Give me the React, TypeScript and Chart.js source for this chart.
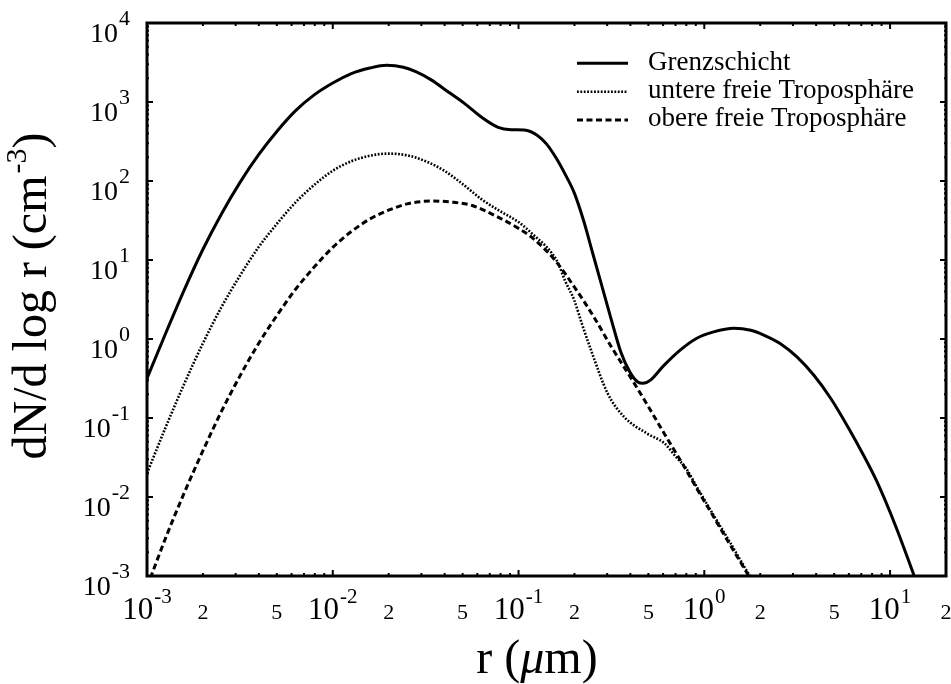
import React, { useEffect, useRef } from 'react';
import { Chart, registerables } from 'chart.js';

Chart.register(...registerables);

// ---------- data ----------
const rGrenz = [0.001, 0.001259, 0.001585, 0.001995, 0.002512, 0.003162, 0.003981, 0.005012, 0.00631, 0.007943, 0.01, 0.01259, 0.01585, 0.0195, 0.02399, 0.02818, 0.03388, 0.04169, 0.05129, 0.0631, 0.07762, 0.0912, 0.1072, 0.1259, 0.1413, 0.1585, 0.1778, 0.1995, 0.2239, 0.2512, 0.2818, 0.3162, 0.3548, 0.3981, 0.4365, 0.4677, 0.5129, 0.6026, 0.7413, 0.912, 1.122, 1.445, 1.778, 2.089, 2.57, 3.162, 3.89, 4.786, 5.888, 7.079, 8.511, 10.72, 13.49, 15.85];
const nGrenz = [0.3162, 1.175, 4.169, 13.49, 38.02, 95.5, 213.8, 426.6, 776.2, 1230, 1738, 2291, 2692, 2917, 2754, 2399, 1905, 1349, 955, 645.7, 478.6, 446.7, 441.6, 380.2, 295.1, 199.5, 123, 70.8, 31.6, 12.0, 4.57, 1.738, 0.692, 0.38, 0.288, 0.275, 0.302, 0.457, 0.724, 1.023, 1.23, 1.365, 1.288, 1.122, 0.871, 0.589, 0.347, 0.178, 0.0794, 0.0363, 0.0155, 0.00427, 0.001, 0.000355];

const rUntere = [0.001, 0.001259, 0.001585, 0.001995, 0.002512, 0.003162, 0.003981, 0.005012, 0.00631, 0.007943, 0.01, 0.01259, 0.01585, 0.01995, 0.02512, 0.03162, 0.03981, 0.05012, 0.0631, 0.078, 0.1, 0.1175, 0.1514, 0.1633, 0.1778, 0.1995, 0.2188, 0.2455, 0.302, 0.3715, 0.4955, 0.6095, 0.7079, 0.7943, 0.9204, 1.122, 1.38, 1.698, 1.995];
const nUntere = [0.01995, 0.0759, 0.2692, 0.871, 2.512, 6.31, 14.45, 28.84, 53.7, 89.1, 134.9, 177.8, 208.9, 222.3, 211.3, 177.8, 134.9, 91.2, 58.9, 42.66, 30.2, 21.88, 12.16, 9.12, 5.495, 3.09, 1.585, 0.7244, 0.2042, 0.1023, 0.0631, 0.0479, 0.03162, 0.02344, 0.01288, 0.005888, 0.00263, 0.001148, 0.000631];

const rObere = [0.001, 0.001259, 0.001585, 0.001995, 0.002512, 0.003162, 0.003981, 0.005012, 0.00631, 0.007943, 0.01, 0.01259, 0.01585, 0.01995, 0.02512, 0.03412, 0.04467, 0.05623, 0.078, 0.1, 0.1175, 0.1567, 0.1995, 0.2512, 0.3162, 0.4207, 0.5012, 0.6095, 0.7586, 0.9204, 1.122, 1.38, 1.706, 1.995];
const nObere = [0.000724, 0.00302, 0.01122, 0.038, 0.1202, 0.3388, 0.871, 1.995, 4.266, 8.128, 14.45, 22.91, 33.11, 42.66, 51.29, 55.85, 53.7, 48.98, 34.67, 25.12, 19.5, 10.0, 4.571, 1.995, 0.7943, 0.2723, 0.138, 0.0631, 0.0269, 0.0123, 0.005623, 0.002455, 0.001072, 0.000575];

const seriesNames = ['Grenzschicht', 'untere freie Troposphäre', 'obere freie Troposphäre'];

const xMin = 0.001;
const xMax = 20;
const yMin = 0.001;
const yMax = 10000;

const xMajorTicks = [0.001, 0.01, 0.1, 1, 10];
const xMajorExp = ['-3', '-2', '-1', '0', '1'];
const xMinorLabelTicks = [0.002, 0.005, 0.02, 0.05, 0.2, 0.5, 2, 5, 20];
const xMinorLabels = ['2', '5', '2', '5', '2', '5', '2', '5', '2'];
const yMajorTicks = [0.001, 0.01, 0.1, 1, 10, 100, 1000, 10000];
const yMajorExp = ['-3', '-2', '-1', '0', '1', '2', '3', '4'];

const xTitleParts = ['r (', 'μ', 'm)'];
const yTitleParts = ['dN/d log r (cm', '-3', ')'];

const FONT = "'Liberation Serif', 'DejaVu Serif', serif";
const DOT_DASH = [1.8, 1.6];
const DASH_DASH = [6, 3.5];

function toPoints(xs: number[], ys: number[]) {
  return xs.map((x, i) => ({ x, y: ys[i] }));
}

const decorPlugin = {
  id: 'decor',
  afterDraw(chart: any) {
    const ctx: any = chart.ctx;
    const { left, right, top, bottom } = chart.chartArea;
    const xs = chart.scales.x;
    const ys = chart.scales.y;
    ctx.save();
    ctx.strokeStyle = '#000';
    ctx.fillStyle = '#000';

    // ticks (inward, mirrored)
    ctx.lineWidth = 2;
    ctx.beginPath();
    for (let n = -3; n <= 1; n++) {
      for (let k = 1; k <= 9; k++) {
        const v = k * Math.pow(10, n);
        if (v < xMin || v > xMax) continue;
        const px = xs.getPixelForValue(v);
        const len = k === 1 ? 6 : 3;
        ctx.moveTo(px, bottom);
        ctx.lineTo(px, bottom - len);
        ctx.moveTo(px, top);
        ctx.lineTo(px, top + len);
      }
    }
    for (let n = -3; n <= 4; n++) {
      for (let k = 1; k <= 9; k++) {
        const v = k * Math.pow(10, n);
        if (v < yMin || v > yMax) continue;
        const py = ys.getPixelForValue(v);
        const len = k === 1 ? 6 : 2;
        ctx.moveTo(left, py);
        ctx.lineTo(left + len, py);
        ctx.moveTo(right, py);
        ctx.lineTo(right - len, py);
      }
    }
    ctx.stroke();

    // frame
    ctx.lineWidth = 3;
    ctx.strokeRect(left, top, right - left, bottom - top);

    // x tick labels
    ctx.textBaseline = 'alphabetic';
    ctx.textAlign = 'left';
    xMajorTicks.forEach((v, i) => {
      const px = xs.getPixelForValue(v);
      ctx.font = `31px ${FONT}`;
      const w1 = ctx.measureText('10').width;
      ctx.font = `21px ${FONT}`;
      const w2 = ctx.measureText(xMajorExp[i]).width;
      const total = w1 + 1 + w2;
      const sx = px - total / 2;
      ctx.font = `31px ${FONT}`;
      ctx.fillText('10', sx, 619);
      ctx.font = `21px ${FONT}`;
      ctx.fillText(xMajorExp[i], sx + w1 + 1, 603);
    });
    ctx.textAlign = 'center';
    ctx.font = `22px ${FONT}`;
    xMinorLabelTicks.forEach((v, i) => {
      const px = xs.getPixelForValue(v);
      ctx.fillText(xMinorLabels[i], px, 619);
    });

    // y tick labels (right aligned)
    ctx.textAlign = 'left';
    yMajorTicks.forEach((v, i) => {
      const py = ys.getPixelForValue(v);
      ctx.font = `22px ${FONT}`;
      const w2 = ctx.measureText(yMajorExp[i]).width;
      ctx.font = `28px ${FONT}`;
      const w1 = ctx.measureText('10').width;
      const rightEdge = 130;
      const sx = rightEdge - w2 - 1 - w1;
      ctx.fillText('10', sx, py + 18.5);
      ctx.font = `22px ${FONT}`;
      ctx.fillText(yMajorExp[i], sx + w1 + 1, py + 1.5);
    });

    // x title
    {
      const fonts = [`48px ${FONT}`, `italic 48px ${FONT}`, `48px ${FONT}`];
      const widths = xTitleParts.map((t, i) => {
        ctx.font = fonts[i];
        return ctx.measureText(t).width;
      });
      const total = widths.reduce((a: number, b: number) => a + b, 0);
      let sx = 537 - total / 2;
      xTitleParts.forEach((t, i) => {
        ctx.font = fonts[i];
        ctx.fillText(t, sx, 673);
        sx += widths[i];
      });
    }

    // y title (rotated)
    {
      ctx.save();
      ctx.translate(46, 296);
      ctx.rotate(-Math.PI / 2);
      const fonts = [`48px ${FONT}`, `30px ${FONT}`, `48px ${FONT}`];
      const rises = [0, -20, 0];
      const widths = yTitleParts.map((t, i) => {
        ctx.font = fonts[i];
        return ctx.measureText(t).width;
      });
      const total = widths.reduce((a: number, b: number) => a + b, 0) + 2;
      let sx = -total / 2;
      yTitleParts.forEach((t, i) => {
        ctx.font = fonts[i];
        ctx.fillText(t, sx, rises[i]);
        sx += widths[i] + (i === 0 ? 2 : 0);
      });
      ctx.restore();
    }

    // legend
    const legendY = [63.3, 91.7, 120];
    const dashes = [[], DOT_DASH, DASH_DASH];
    const widthsL = [3, 2.5, 3];
    legendY.forEach((ly, i) => {
      ctx.beginPath();
      ctx.setLineDash(dashes[i]);
      ctx.lineWidth = widthsL[i];
      ctx.moveTo(577, ly);
      ctx.lineTo(628, ly);
      ctx.stroke();
      ctx.setLineDash([]);
      ctx.font = `27px ${FONT}`;
      ctx.textAlign = 'left';
      ctx.fillText(seriesNames[i], 648, ly + 6.3);
    });

    ctx.restore();
  },
};

export default function App() {
  const canvasRef = useRef<HTMLCanvasElement | null>(null);

  useEffect(() => {
    const canvas = canvasRef.current;
    if (!canvas) return;
    const chart = new Chart(canvas, {
      type: 'line',
      data: {
        datasets: [
          {
            label: seriesNames[0],
            data: toPoints(rGrenz, nGrenz),
            borderColor: '#000',
            borderWidth: 3,
            pointRadius: 0,
            cubicInterpolationMode: 'monotone',
            fill: false,
          },
          {
            label: seriesNames[1],
            data: toPoints(rUntere, nUntere),
            borderColor: '#000',
            borderWidth: 2.6,
            borderDash: DOT_DASH,
            pointRadius: 0,
            cubicInterpolationMode: 'monotone',
            fill: false,
          },
          {
            label: seriesNames[2],
            data: toPoints(rObere, nObere),
            borderColor: '#000',
            borderWidth: 3,
            borderDash: DASH_DASH,
            pointRadius: 0,
            cubicInterpolationMode: 'monotone',
            fill: false,
          },
        ],
      },
      options: {
        responsive: false,
        animation: false,
        devicePixelRatio: 1,
        events: [],
        layout: { padding: { top: 23, right: 5, left: 0, bottom: 0 } },
        plugins: {
          legend: { display: false },
          tooltip: { enabled: false },
          title: { display: false },
        },
        scales: {
          x: {
            type: 'logarithmic',
            min: xMin,
            max: xMax,
            ticks: { display: false },
            grid: { display: false, drawTicks: false },
            border: { display: false },
            afterFit: (s: any) => {
              s.height = 108;
            },
          },
          y: {
            type: 'logarithmic',
            min: yMin,
            max: yMax,
            ticks: { display: false },
            grid: { display: false, drawTicks: false },
            border: { display: false },
            afterFit: (s: any) => {
              s.width = 147;
            },
          },
        },
      },
      plugins: [decorPlugin],
    });
    return () => chart.destroy();
  }, []);

  return (
    <canvas
      ref={canvasRef}
      width={951}
      height={684}
      style={{ position: 'absolute', left: 0, top: 0, width: 951, height: 684, background: '#fff' }}
    />
  );
}
